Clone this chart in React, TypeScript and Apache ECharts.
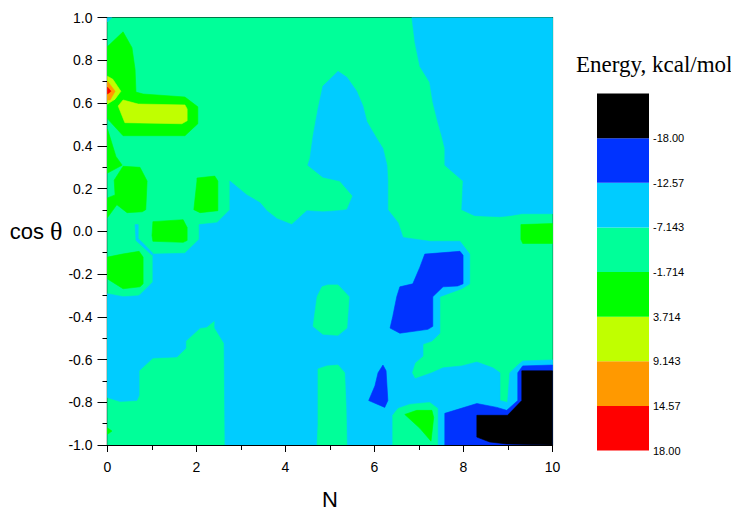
import React, { useEffect, useRef } from "react";
import * as echarts from "echarts";

// Colour bins of the energy scale (bottom to top of the colour bar)
const binLabels = ["18.00", "14.57", "9.143", "3.714", "-1.714", "-7.143", "-12.57", "-18.00"];
const binColors = ["#FF0000", "#FF9900", "#C0FF00", "#00FF00", "#00FF99", "#00CCFF", "#0033FF", "#000000"];
const RED = 0, ORANGE = 1, YG = 2, GREEN = 3, MINT = 4, LBLUE = 5, BLUE = 6, BLACK = 7;

// Contour regions, vertices as [N, cos θ]
const baseRegion = [[0, 1], [10, 1], [10, -1], [0, -1]];
const lightBlueTopRight = [[6.84, 1], [10, 1], [10, 0.082], [9.31, 0.082], [9.04, 0.073], [8.82, 0.068], [8.25, 0.073], [7.96, 0.101], [7.99, 0.235], [7.58, 0.309], [7.58, 0.387], [7.51, 0.447], [7.42, 0.512], [7.31, 0.605], [7.24, 0.697], [7.02, 0.771], [6.91, 0.882]];
const lightBlueCentral = [[5.18, 0.748], [5.38, 0.72], [5.6, 0.655], [5.74, 0.586], [5.83, 0.512], [6.05, 0.434], [6.19, 0.387], [6.28, 0.309], [6.3, 0.235], [6.3, 0.101], [6.53, 0.04], [6.64, -0.029], [7.24, -0.047], [7.92, -0.047], [8.14, -0.107], [8.14, -0.246], [7.96, -0.269], [7.47, -0.306], [7.47, -0.477], [7.29, -0.514], [7.09, -0.528], [7.09, -0.584], [6.91, -0.616], [6.84, -0.662], [6.91, -0.69], [7.29, -0.662], [7.54, -0.639], [7.96, -0.63], [8.3, -0.612], [8.66, -0.639], [8.82, -0.662], [8.82, -0.792], [8.99, -0.801], [9.04, -0.662], [9.2, -0.63], [9.33, -0.607], [10, -0.602], [10, -1], [2.64, -1], [2.62, -0.524], [2.41, -0.453], [2.41, -0.417], [2.23, -0.448], [2.08, -0.453], [1.76, -0.514], [1.76, -0.547], [1.56, -0.588], [1.02, -0.593], [0.71, -0.653], [0.71, -0.769], [0.66, -0.792], [0.28, -0.796], [0, -0.778], [0, -0.292], [0.35, -0.306], [0.69, -0.302], [0.73, -0.297], [1.02, -0.237], [1.02, -0.107], [1.74, -0.103], [2.06, -0.038], [2.06, 0.031], [2.46, 0.04], [2.75, 0.101], [2.75, 0.235], [3.13, 0.17], [3.43, 0.133], [3.58, 0.096], [3.81, 0.059], [4.14, 0.031], [4.48, 0.096], [4.84, 0.091], [5.18, 0.096], [5.38, 0.101], [5.51, 0.165], [5.22, 0.235], [4.84, 0.253], [4.5, 0.309], [4.55, 0.341], [4.62, 0.447], [4.73, 0.572], [4.84, 0.679], [5.0, 0.711]];
const lightBlueSliver = [[0.62, 0.031], [0.69, 0.031], [0.69, -0.034], [1.02, -0.103], [1.0, -0.112], [0.64, -0.043]];
const lightBlueCorner = [[0, 1], [0.1, 1], [0, 0.979]];
const mintPatchA = [[4.82, -0.26], [4.95, -0.251], [5.18, -0.251], [5.43, -0.306], [5.38, -0.453], [5.18, -0.487], [4.84, -0.482], [4.62, -0.445], [4.71, -0.306]];
const mintPatchB = [[4.73, -0.644], [4.93, -0.63], [5.18, -0.626], [5.33, -0.662], [5.36, -0.815], [5.38, -1], [4.71, -1], [4.73, -0.908], [4.73, -0.792]];
const mintPatchC = [[6.41, -1], [6.41, -0.861], [6.53, -0.829], [6.79, -0.81], [7.24, -0.801], [7.42, -0.829], [7.42, -1]];
const bluePatch1 = [[7.13, -0.107], [7.92, -0.094], [7.99, -0.112], [7.99, -0.246], [7.87, -0.256], [7.54, -0.26], [7.31, -0.306], [7.31, -0.445], [7.2, -0.459], [6.57, -0.477], [6.35, -0.453], [6.41, -0.399], [6.5, -0.306], [6.57, -0.26], [6.86, -0.246], [7.02, -0.168]];
const bluePatch2 = [[6.19, -0.626], [6.26, -0.653], [6.3, -0.792], [6.23, -0.824], [5.87, -0.792], [6.01, -0.723], [6.08, -0.662]];
const bluePatch3 = [[7.58, -0.852], [8.3, -0.806], [8.75, -0.824], [8.97, -0.838], [9.22, -0.792], [9.22, -0.662], [9.33, -0.63], [10, -0.626], [10, -1], [7.58, -1]];
const blackPatch = [[9.31, -0.653], [10, -0.653], [10, -1], [8.97, -0.995], [8.59, -0.986], [8.3, -0.963], [8.3, -0.861], [8.99, -0.861], [9.31, -0.792]];
const greenPatch1 = [[0, 0.864], [0.35, 0.933], [0.55, 0.859], [0.62, 0.757], [0.64, 0.651], [0.8, 0.642], [1.74, 0.628], [2.03, 0.582], [2.03, 0.503], [1.74, 0.447], [0.35, 0.447], [0, 0.526]];
const greenPatch2 = [[0, 0.478], [0.19, 0.35], [0.33, 0.309], [0, 0.272]];
const greenPatch3 = [[0.35, 0.304], [0.73, 0.299], [0.89, 0.235], [0.86, 0.101], [0.78, 0.091], [0.44, 0.087], [0.21, 0.124], [0, 0.064], [0, 0.156], [0.17, 0.17], [0.15, 0.239]];
const greenPatch4 = [[2.01, 0.249], [2.41, 0.258], [2.48, 0.235], [2.48, 0.096], [2.08, 0.087], [1.94, 0.101], [2.01, 0.235]];
const greenPatch5 = [[1.02, 0.045], [1.7, 0.054], [1.79, 0.017], [1.79, -0.043], [1.7, -0.052], [1.02, -0.047], [1.0, -0.02]];
const greenPatch6 = [[0, -0.121], [0.33, -0.107], [0.71, -0.094], [0.8, -0.121], [0.8, -0.246], [0.73, -0.26], [0.35, -0.269], [0, -0.223]];
const greenPatch7 = [[9.29, 0.031], [10, 0.036], [10, -0.057], [9.33, -0.057], [9.29, -0.038]];
const greenPatch8 = [[6.68, -0.857], [6.95, -0.838], [7.29, -0.838], [7.33, -0.871], [7.27, -0.982], [7.02, -0.922]];
const greenPatch9 = [[0, -0.92], [0.1, -0.935], [0, -0.95]];
const yellowGreenPatch1 = [[0, 0.725], [0.12, 0.711], [0.3, 0.655], [0.17, 0.618], [0, 0.595]];
const yellowGreenPatch2 = [[0.35, 0.614], [0.69, 0.595], [1.74, 0.591], [1.79, 0.572], [1.79, 0.517], [1.67, 0.503], [0.39, 0.508], [0.24, 0.586]];
const orangePatch = [[0, 0.702], [0.17, 0.655], [0.06, 0.614], [0, 0.614]];
const redPatch = [[0, 0.674], [0.08, 0.655], [0, 0.642]];

const regions = [
  { level: MINT, pts: baseRegion },
  { level: LBLUE, pts: lightBlueTopRight },
  { level: LBLUE, pts: lightBlueCentral },
  { level: LBLUE, pts: lightBlueSliver },
  { level: LBLUE, pts: lightBlueCorner },
  { level: MINT, pts: mintPatchA },
  { level: MINT, pts: mintPatchB },
  { level: MINT, pts: mintPatchC },
  { level: BLUE, pts: bluePatch1 },
  { level: BLUE, pts: bluePatch2 },
  { level: BLUE, pts: bluePatch3 },
  { level: BLACK, pts: blackPatch },
  { level: GREEN, pts: greenPatch1 },
  { level: GREEN, pts: greenPatch2 },
  { level: GREEN, pts: greenPatch3 },
  { level: GREEN, pts: greenPatch4 },
  { level: GREEN, pts: greenPatch5 },
  { level: GREEN, pts: greenPatch6 },
  { level: GREEN, pts: greenPatch7 },
  { level: GREEN, pts: greenPatch8 },
  { level: GREEN, pts: greenPatch9 },
  { level: YG, pts: yellowGreenPatch1 },
  { level: YG, pts: yellowGreenPatch2 },
  { level: ORANGE, pts: orangePatch },
  { level: RED, pts: redPatch },
];

const SANS = "Liberation Sans, Arial, sans-serif";
const SERIF = "Liberation Serif, Times New Roman, serif";

export default function App() {
  const ref = useRef<HTMLDivElement>(null);
  useEffect(() => {
    if (!ref.current) return;
    const chart = echarts.init(ref.current, null, { renderer: "svg" });
    const option: any = {
      animation: false,
      backgroundColor: "#fff",
      title: {
        text: "Energy, kcal/mol",
        left: 571,
        top: 48,
        textStyle: { fontFamily: SERIF, fontSize: 23, fontWeight: "normal", color: "#000" },
      },
      grid: [
        { left: 107.5, top: 17.5, width: 445, height: 432.5, show: true, borderColor: "#000", borderWidth: 1.2, backgroundColor: "transparent" },
        { left: 597, top: 93.5, width: 52, height: 357 },
      ],
      xAxis: [
        {
          gridIndex: 0, type: "value", min: 0, max: 10, interval: 2,
          axisLine: { show: true, onZero: false, lineStyle: { color: "#000", width: 1.2 } },
          axisTick: { show: true, length: 7, lineStyle: { color: "#000" } },
          minorTick: { show: true, splitNumber: 2, length: 5, lineStyle: { color: "#000" } },
          splitLine: { show: false },
          axisLabel: { fontSize: 14, color: "#000", fontFamily: SANS, margin: 15 },
          name: "N", nameLocation: "middle", nameGap: 43,
          nameTextStyle: { fontSize: 22, fontFamily: SANS, color: "#000" },
        },
        { gridIndex: 1, type: "value", min: 0, max: 1, show: false },
      ],
      yAxis: [
        {
          gridIndex: 0, type: "value", min: -1, max: 1, interval: 0.2,
          axisLine: { show: true, onZero: false, lineStyle: { color: "#000", width: 1.2 } },
          axisTick: { show: true, length: 10, lineStyle: { color: "#000" } },
          minorTick: { show: true, splitNumber: 2, length: 5, lineStyle: { color: "#000" } },
          splitLine: { show: false },
          axisLabel: {
            fontSize: 14, color: "#000", fontFamily: SANS, margin: 15,
            formatter: (v: number) => (Math.abs(v) < 1e-9 ? 0 : v).toFixed(1),
          },
          name: "{a|cos }{b|θ}", nameLocation: "middle", nameRotate: 0, nameGap: 40,
          nameTextStyle: {
            color: "#000",
            rich: {
              a: { fontSize: 22, fontFamily: SANS, color: "#000" },
              b: { fontSize: 26, fontFamily: SERIF, color: "#000" },
            },
          },
        },
        {
          gridIndex: 1, type: "value", min: 0, max: 8, interval: 1, position: "right",
          axisLine: { show: false }, axisTick: { show: false }, splitLine: { show: false },
          axisLabel: {
            fontSize: 11, color: "#000", fontFamily: SANS, margin: 4,
            formatter: (v: number) => binLabels[Math.round(v)] ?? "",
          },
        },
      ],
      series: [
        {
          type: "custom",
          xAxisIndex: 0, yAxisIndex: 0,
          clip: true,
          data: regions.map((_, i) => [i, 0]),
          encode: { x: 0, y: 1 },
          renderItem: (params: any, api: any) => {
            const r = regions[params.dataIndex];
            const c = binColors[r.level];
            return {
              type: "polygon",
              shape: { points: r.pts.map((p) => api.coord(p)) },
              style: { fill: c, stroke: c, lineWidth: 0.6 },
            };
          },
        },
        {
          type: "custom",
          xAxisIndex: 1, yAxisIndex: 1,
          data: binColors.map((_, i) => [0, i]),
          encode: { x: 0, y: 1 },
          renderItem: (params: any, api: any) => {
            const i = params.dataIndex;
            const p0 = api.coord([0, i + 1]);
            const p1 = api.coord([1, i]);
            return {
              type: "rect",
              shape: { x: p0[0], y: p0[1], width: p1[0] - p0[0], height: p1[1] - p0[1] },
              style: { fill: binColors[i] },
            };
          },
        },
      ],
    };
    chart.setOption(option);
    return () => chart.dispose();
  }, []);
  return <div ref={ref} style={{ position: "absolute", left: 0, top: 0, width: 731, height: 515 }} />;
}
